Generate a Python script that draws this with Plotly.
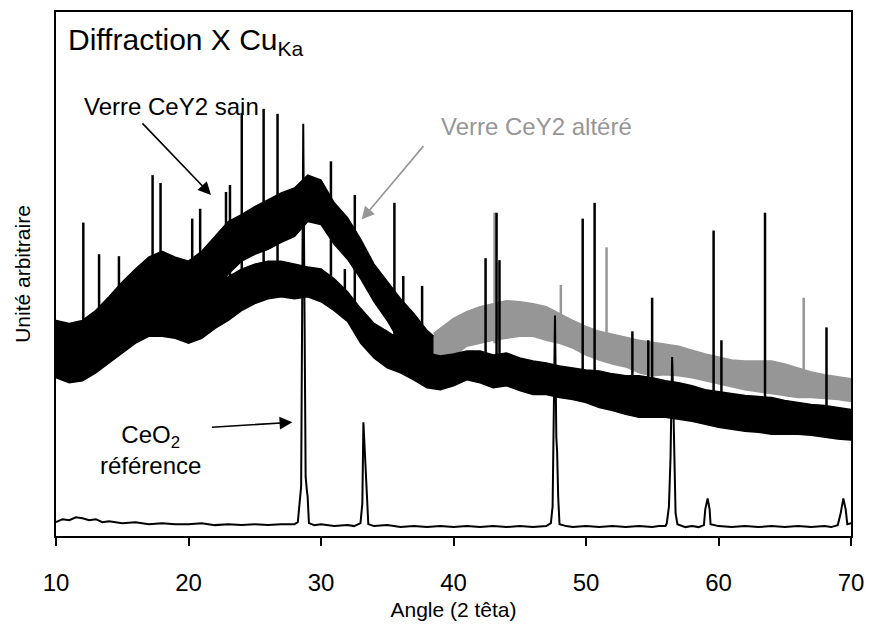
import plotly.graph_objects as go

# ---------------- data (intensity in arbitrary units) ----------------
# Altered glass, black part (10-38.5 deg): lower / upper envelope of the noisy trace
alt_black_angle = [10, 11, 12, 13, 14, 15, 16, 17, 18, 19, 20, 21, 22, 23, 24, 25, 26, 27, 28, 29,
                   30, 31, 32, 33, 34, 35, 36, 37, 38, 38.5]
alt_black_low = [168, 170, 172, 180, 190, 205, 222, 240, 245, 240, 235, 240, 250, 265, 278, 285, 290, 297, 303, 318,
                 315, 295, 280, 260, 237, 218, 195, 183, 174, 170]
alt_black_high = [218, 215, 218, 228, 242, 257, 270, 282, 288, 282, 278, 288, 303, 318, 325, 333, 340, 347, 352, 365,
                  360, 337, 322, 300, 275, 258, 240, 225, 208, 202]

# Altered glass, grey part (38.5-70 deg)
alt_grey_angle = [38.5, 39, 40, 41, 42, 43, 44, 45, 46, 47, 48, 49, 50, 51, 52, 53, 54, 55, 56, 57,
                  58, 59, 60, 61, 62, 63, 64, 65, 66, 67, 68, 69, 70]
alt_grey_low = [168, 172, 182, 192, 195, 198, 200, 202, 202, 198, 195, 190, 183, 178, 174, 171, 165, 162, 163, 162,
                160, 157, 154, 151, 148, 146, 144, 142, 140, 140, 139, 138, 136]
alt_grey_high = [205, 210, 220, 227, 232, 235, 238, 237, 235, 232, 225, 218, 212, 207, 204, 201, 198, 196, 194, 192,
                 188, 184, 181, 178, 177, 177, 177, 174, 170, 166, 163, 161, 159]

# Sound glass (10-70 deg)
sain_angle = list(range(10, 71))
sain_low = [160, 155, 157, 165, 175, 185, 195, 202, 202, 200, 195, 200, 210, 218, 228, 235, 240, 242, 240, 242,
            237, 228, 217, 195, 180, 170, 165, 158, 150, 148, 152, 158, 155, 150, 152, 147, 143, 143, 140, 138,
            135, 130, 127, 123, 120, 120, 120, 118, 116, 113, 110, 108, 106, 105, 103, 103, 103, 102, 100, 98, 97]
sain_high = [210, 205, 207, 215, 225, 235, 245, 250, 250, 247, 242, 245, 255, 262, 270, 275, 278, 278, 275, 272,
             270, 260, 247, 230, 215, 207, 198, 192, 185, 182, 184, 187, 187, 183, 185, 180, 177, 175, 172, 170,
             168, 167, 164, 162, 162, 160, 157, 155, 152, 148, 146, 144, 142, 141, 140, 137, 135, 133, 132, 130, 128]

# Sharp spikes: angle, top intensity, foot intensity
spike_black_angle = [12.06, 13.25, 14.75, 17.29, 17.89, 20.28, 20.88, 22.83, 23.13, 24.02, 25.67, 26.72,
                     30.75, 31.8, 32.55, 35.54, 36.21, 37.63, 42.42, 43.25, 43.47, 49.75, 50.65, 53.5,
                     54.7, 54.99, 59.63, 60.22, 63.51, 68.15]
spike_black_top = [317, 285, 283, 365, 357, 321, 331, 348, 355, 428, 432, 427,
                   379, 270, 345, 337, 263, 253, 281, 327, 279, 321, 337, 207,
                   198, 241, 309, 198, 327, 211]
spike_black_foot = [170, 175, 195, 220, 220, 220, 220, 250, 250, 240, 250, 250,
                    240, 220, 220, 180, 175, 165, 160, 160, 160, 145, 145, 130,
                    130, 130, 120, 120, 115, 110]
spike_grey_angle = [43.1, 48.1, 51.55, 66.43]
spike_grey_top = [327, 254, 292, 241]
spike_grey_foot = [195, 195, 180, 140]

# CeO2 reference pattern
ceo2_angle = [10, 10.5, 11, 11.5, 12, 12.5, 13, 13.5, 14, 15, 16, 17, 18, 19, 20, 21, 22, 23, 24, 25, 26, 27,
              28, 28.25, 28.34, 28.5, 28.66, 28.84, 28.94, 28.99, 29.09, 29.5, 30, 31, 32, 32.5,
              32.98, 33.12, 33.2, 33.33, 33.4, 33.47, 33.57, 34, 35, 36, 37, 38, 39, 40, 41, 42, 43, 44, 45, 46, 47,
              47.35, 47.48, 47.66, 47.76, 47.82, 47.9, 48.0, 48.5, 49, 50, 51, 52, 53, 54, 55, 55.5, 56,
              56.1, 56.26, 56.38, 56.5, 56.58, 56.63, 56.76, 56.9, 57.5, 58, 58.5,
              58.9, 59.0, 59.18, 59.33, 59.4, 60, 61, 62, 63, 64, 65, 66, 67, 68, 68.5, 69,
              69.22, 69.42, 69.6, 69.72, 70]
ceo2_int = [14, 17, 16, 19, 18, 16, 17, 14, 15, 13, 14, 12, 13, 12, 12, 13, 11, 12, 11, 12, 11, 12,
            12, 14, 27, 50, 417, 60, 45, 40, 13, 11, 12, 10, 11, 10,
            13, 33, 115, 70, 57, 40, 12, 10, 11, 9, 10, 9, 10, 9, 10, 9, 10, 9, 10, 9, 10,
            13, 30, 223, 100, 85, 40, 12, 10, 9, 10, 9, 10, 9, 10, 9, 10, 10,
            13, 30, 80, 181, 140, 103, 23, 12, 9, 10, 9,
            11, 27, 38, 27, 12, 10, 9, 10, 9, 10, 9, 10, 9, 10, 9, 11,
            23, 38, 27, 12, 13]

# ---------------- figure ----------------
BLACK = "#000000"
GREY = "#969696"
FONT = "Liberation Sans, Arial, sans-serif"

fig = go.Figure()


def add_band(x, low, high, color):
    fig.add_trace(go.Scatter(x=x, y=low, mode="lines", line=dict(color=color, width=1.5),
                             hoverinfo="skip", showlegend=False))
    fig.add_trace(go.Scatter(x=x, y=high, mode="lines", line=dict(color=color, width=1.5),
                             fill="tonexty", fillcolor=color, hoverinfo="skip", showlegend=False))


def add_spikes(angles, tops, feet, color):
    xs, ys = [], []
    for a, t, f in zip(angles, tops, feet):
        xs += [a, a, None]
        ys += [f, t, None]
    fig.add_trace(go.Scatter(x=xs, y=ys, mode="lines", line=dict(color=color, width=2.5),
                             hoverinfo="skip", showlegend=False))


add_band(alt_grey_angle, alt_grey_low, alt_grey_high, GREY)
add_spikes(spike_grey_angle, spike_grey_top, spike_grey_foot, GREY)
add_band(alt_black_angle, alt_black_low, alt_black_high, BLACK)
add_band(sain_angle, sain_low, sain_high, BLACK)
add_spikes(spike_black_angle, spike_black_top, spike_black_foot, BLACK)
fig.add_trace(go.Scatter(x=ceo2_angle, y=ceo2_int, mode="lines", line=dict(color=BLACK, width=2),
                         hoverinfo="skip", showlegend=False))

annotations = [
    dict(x=10.75, y=500, text="Diffraction X Cu<sub>Ka</sub>", showarrow=False, xanchor="left",
         yanchor="middle", font=dict(size=30, color=BLACK)),
    dict(x=18.7, y=434, text="Verre CeY2 sain", showarrow=False, xanchor="center", yanchor="middle",
         font=dict(size=24, color=BLACK)),
    dict(x=46.3, y=414, text="Verre CeY2 altéré", showarrow=False, xanchor="center", yanchor="middle",
         font=dict(size=24, color=GREY)),
    dict(x=17.1, y=87, text="CeO<sub>2</sub><br>référence", showarrow=False, xanchor="center",
         yanchor="middle", font=dict(size=24, color=BLACK)),
    dict(x=21.7, y=345, ax=-70, ay=-73, axref="pixel", ayref="pixel", text="", showarrow=True,
         arrowhead=2, arrowsize=1.6, arrowwidth=1.6, arrowcolor=BLACK),
    dict(x=33.07, y=320, ax=63, ay=-75, axref="pixel", ayref="pixel", text="", showarrow=True,
         arrowhead=2, arrowsize=1.6, arrowwidth=1.6, arrowcolor=GREY),
    dict(x=27.84, y=115, ax=-82, ay=5, axref="pixel", ayref="pixel", text="", showarrow=True,
         arrowhead=2, arrowsize=1.6, arrowwidth=1.6, arrowcolor=BLACK),
]

fig.update_layout(
    width=874, height=628,
    margin=dict(l=56, r=16, t=10, b=88),
    paper_bgcolor="white", plot_bgcolor="white",
    font=dict(family=FONT, color=BLACK),
    showlegend=False,
    annotations=annotations,
    xaxis=dict(range=[10, 70], tickvals=[10, 20, 30, 40, 50, 60, 70], ticks="outside", ticklen=8,
               tickwidth=1.5, tickcolor=BLACK, showline=True, linecolor=BLACK, linewidth=1.5,
               mirror=True, showgrid=False, zeroline=False, tickfont=dict(size=24),
               ticklabelstandoff=16, ticklabeloverflow="allow",
               title=dict(text="Angle (2 têta)", font=dict(size=21), standoff=8)),
    yaxis=dict(range=[0, 530], showticklabels=False, ticks="", showline=True, linecolor=BLACK,
               linewidth=1.5, mirror=True, showgrid=False, zeroline=False,
               title=dict(text="Unité arbitraire", font=dict(size=21), standoff=18)),
)

fig.write_html("out.html", config={"displayModeBar": False},
               post_script="document.body.style.margin='0';")
